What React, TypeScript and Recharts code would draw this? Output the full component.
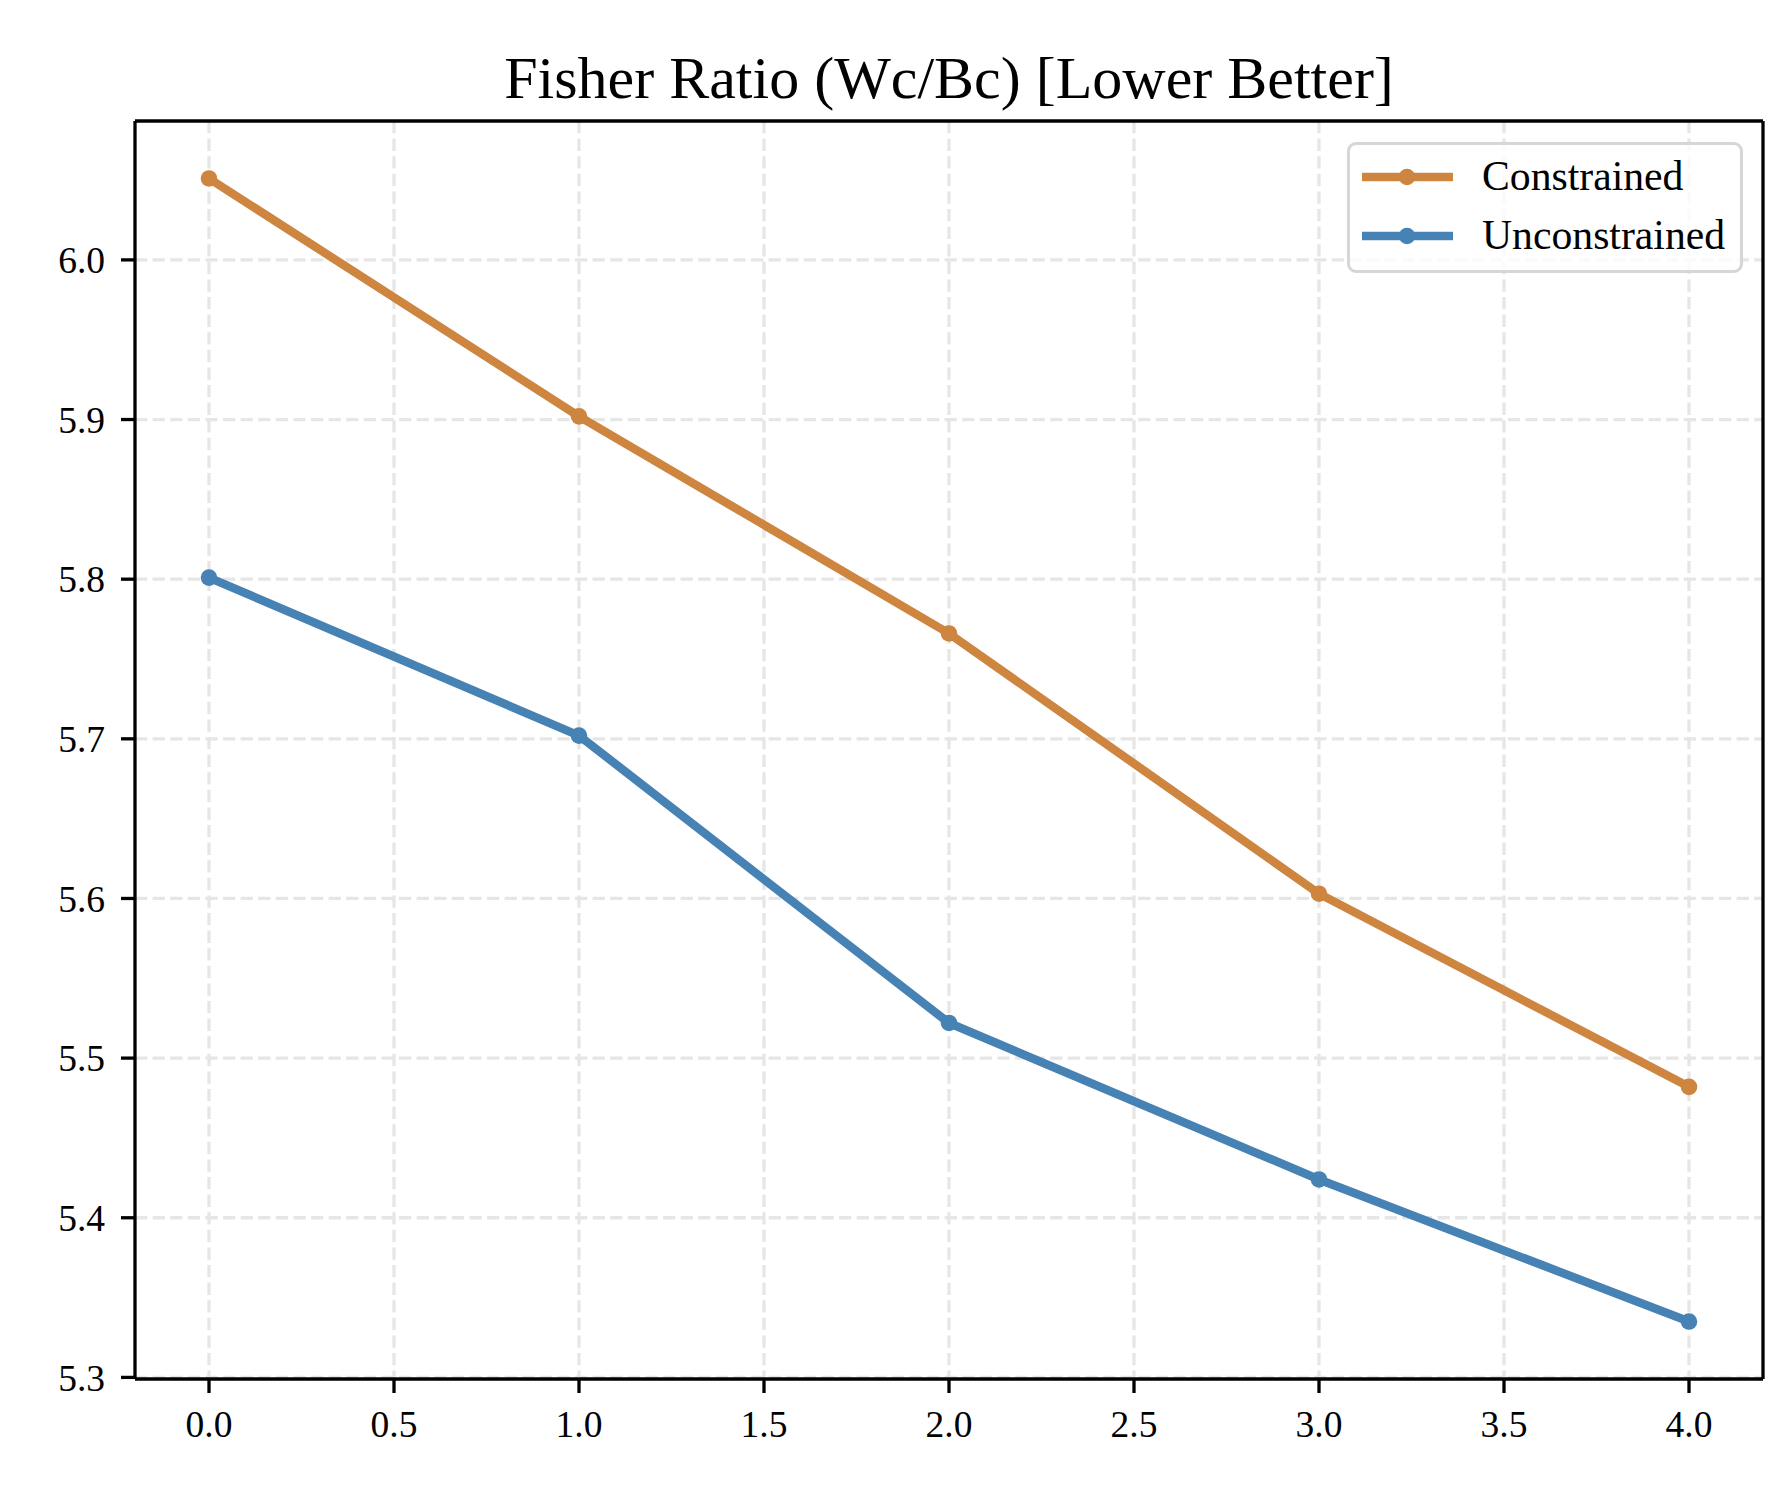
import { LineChart, Line, XAxis, YAxis, CartesianGrid, Legend, ReferenceLine } from "recharts";

const steps = [0, 1, 2, 3, 4];
const constrained = [6.051, 5.902, 5.766, 5.603, 5.482];
const unconstrained = [5.801, 5.702, 5.522, 5.424, 5.335];
const xTicks = [0, 0.5, 1, 1.5, 2, 2.5, 3, 3.5, 4];
const yTicks = [5.3, 5.4, 5.5, 5.6, 5.7, 5.8, 5.9, 6.0];

const X_DOMAIN = [-0.2, 4.2];
const Y_DOMAIN = [5.299, 6.087];

const SERIES = [
  { key: "constrained", name: "Constrained", color: "#CD853F" },
  { key: "unconstrained", name: "Unconstrained", color: "#4682B4" },
];

const FONT = '"Liberation Serif", "Times New Roman", serif';

const data = steps.map((x, i) => ({
  x,
  constrained: constrained[i],
  unconstrained: unconstrained[i],
}));

const LegendBox = () => (
  <div
    style={{
      boxSizing: "border-box",
      width: 396,
      height: 131,
      border: "3px solid #d6d6d6",
      borderRadius: 9,
      background: "rgba(255,255,255,0.8)",
      fontFamily: FONT,
      fontSize: 41.7,
      color: "#000",
      paddingTop: 2,
    }}
  >
    {SERIES.map((s) => (
      <div key={s.key} style={{ display: "flex", alignItems: "center", height: 59 }}>
        <svg width={132} height={30} style={{ flex: "none" }}>
          <line x1={12} x2={103} y1={15} y2={15} stroke={s.color} strokeWidth={8.5} />
          <circle cx={57} cy={15} r={8.3} fill={s.color} />
        </svg>
        <span style={{ lineHeight: 1 }}>{s.name}</span>
      </div>
    ))}
  </div>
);

const App = () => {
  const axisLine = { stroke: "#000", strokeWidth: 3.3 };
  const tick = { fill: "#000", fontFamily: FONT, fontSize: 37.5 };
  return (
    <div style={{ position: "absolute", left: 0, top: 0, width: 1791, height: 1500, background: "#fff" }}>
      <div
        style={{
          position: "absolute",
          left: 135,
          width: 1628,
          top: 48,
          textAlign: "center",
          fontFamily: FONT,
          fontSize: 60,
          lineHeight: "60px",
          color: "#000",
        }}
      >
        Fisher Ratio (Wc/Bc) [Lower Better]
      </div>
      <LineChart
        width={1791}
        height={1500}
        data={data}
        margin={{ top: 121, right: 28, bottom: 61, left: 35 }}
      >
        <CartesianGrid
          stroke="#e6e6e6"
          strokeWidth={3.3}
          strokeDasharray="12.3 5.3"
          verticalValues={xTicks}
          horizontalValues={yTicks}
        />
        <XAxis
          dataKey="x"
          type="number"
          domain={X_DOMAIN}
          ticks={xTicks}
          tickFormatter={(v: number) => v.toFixed(1)}
          height={60}
          axisLine={axisLine}
          tickLine={axisLine}
          tickSize={14}
          tickMargin={17}
          tick={tick}
          allowDataOverflow
        />
        <YAxis
          type="number"
          domain={Y_DOMAIN}
          ticks={yTicks}
          tickFormatter={(v: number) => v.toFixed(1)}
          width={100}
          axisLine={axisLine}
          tickLine={axisLine}
          tickSize={14}
          tickMargin={16}
          tick={tick}
          allowDataOverflow
        />
        {/* top and right spines */}
        <ReferenceLine y={Y_DOMAIN[1]} stroke="#000" strokeWidth={3.3} />
        <ReferenceLine x={X_DOMAIN[1]} stroke="#000" strokeWidth={3.3} />
        <Legend
          layout="vertical"
          align="center"
          verticalAlign="middle"
          wrapperStyle={{ position: "absolute", left: 1347, top: 142, width: 396, height: 131 }}
          content={() => <LegendBox />}
        />
        {SERIES.map((s) => (
          <Line
            key={s.key}
            dataKey={s.key}
            name={s.name}
            type="linear"
            stroke={s.color}
            strokeWidth={8.5}
            dot={{ r: 8.3, fill: s.color, stroke: "none" }}
            activeDot={false}
            isAnimationActive={false}
          />
        ))}
      </LineChart>
    </div>
  );
};

export default App;
